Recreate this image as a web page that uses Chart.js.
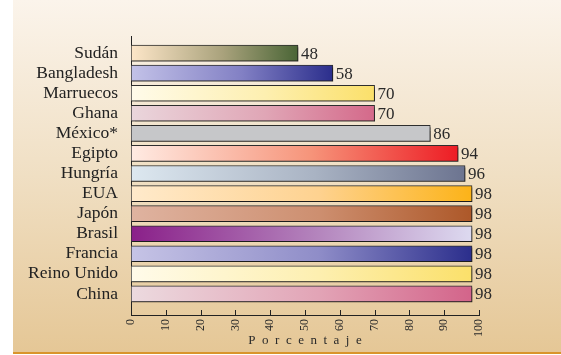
<!DOCTYPE html>
<html>
<head>
<meta charset="utf-8">
<script src="https://cdn.jsdelivr.net/npm/chart.js@4/dist/chart.umd.min.js"></script>
<style>
  html, body { margin: 0; padding: 0; background: #ffffff; }
  #wrap { width: 561px; height: 355px; position: relative; }
</style>
</head>
<body>
<div id="wrap"><canvas id="c" width="561" height="355"></canvas></div>
<script>
const categories = ['Sudán', 'Bangladesh', 'Marruecos', 'Ghana', 'México*', 'Egipto', 'Hungría', 'EUA', 'Japón', 'Brasil', 'Francia', 'Reino Unido', 'China'];
const values = [48, 58, 70, 70, 86, 94, 96, 98, 98, 98, 98, 98, 98];
const gradStart = ['#fde6c8', '#c3c2e8', '#fffbea', '#ead6dc', '#c6c7c9', '#ffebe3', '#dde8f0', '#ffeacb', '#dfb3a0', '#8a2089', '#c6c4e6', '#fffbea', '#ecdadf'];
const gradMid   = ['#a9a27c', '#8280c4', '#fdefb0', '#e0a6b6', '#c6c7c9', '#f6947a', '#a9b3c3', '#fed290', '#cd8f70', '#b485bd', '#8f8dc8', '#fdefb0', '#e2a4b6'];
const gradEnd   = ['#4a6536', '#2b2e8c', '#fbe06a', '#d4698a', '#c6c7c9', '#ed1c24', '#6c7490', '#fcb318', '#ad5829', '#dddaf0', '#2b2e8c', '#fbe06a', '#d3648a'];
const xTickValues = [0, 10, 20, 30, 40, 50, 60, 70, 80, 90, 100];
const axisTitle = 'Porcentaje';

const SERIF = '"Liberation Serif", "Times New Roman", serif';

const bgPlugin = {
  id: 'bg',
  beforeDraw(chart) {
    const ctx = chart.ctx;
    const W = chart.width, H = chart.height;
    ctx.save();
    ctx.fillStyle = '#ffffff';
    ctx.fillRect(0, 0, W, H);
    const g = ctx.createLinearGradient(0, 0, 0, H - 3);
    g.addColorStop(0, '#fbf4eb');
    g.addColorStop(0.5, '#f0dfc3');
    g.addColorStop(1, '#e5c796');
    ctx.fillStyle = g;
    ctx.fillRect(13, 0, W - 13, H - 3);
    ctx.fillStyle = '#d9952b';
    ctx.fillRect(13, H - 3, W - 13, 2);
    ctx.restore();
  }
};

const shadowPlugin = {
  id: 'barShadow',
  beforeDatasetDraw(chart) {
    const ctx = chart.ctx;
    ctx.save();
    ctx.shadowColor = 'rgba(0,0,0,0.40)';
    ctx.shadowOffsetX = 1;
    ctx.shadowOffsetY = 2;
    ctx.shadowBlur = 1;
  },
  afterDatasetDraw(chart) {
    chart.ctx.restore();
  }
};

const decoPlugin = {
  id: 'deco',
  afterDatasetsDraw(chart) {
    const ctx = chart.ctx;
    const meta = chart.getDatasetMeta(0);
    ctx.save();
    ctx.font = '17px ' + SERIF;
    ctx.fillStyle = '#2a2a2a';
    ctx.textAlign = 'left';
    ctx.textBaseline = 'middle';
    meta.data.forEach((bar, i) => {
      ctx.fillText(String(values[i]), bar.x + 3, bar.y + 1);
    });
    ctx.restore();
  },
  afterDraw(chart) {
    const ctx = chart.ctx;
    const xs = chart.scales.x;
    const bottom = chart.chartArea.bottom;
    ctx.save();
    ctx.strokeStyle = '#222';
    ctx.lineWidth = 1;
    ctx.beginPath();
    xs.ticks.forEach((t, i) => {
      const px = Math.round(xs.getPixelForTick(i)) + 0.5;
      ctx.moveTo(px, bottom);
      ctx.lineTo(px, bottom - 5);
    });
    ctx.stroke();
    const spacing = 6.5;
    ctx.font = '13px ' + SERIF;
    ctx.fillStyle = '#2a2a2a';
    ctx.textBaseline = 'middle';
    ctx.textAlign = 'left';
    ctx.letterSpacing = spacing + 'px';
    const w = ctx.measureText(axisTitle).width - spacing;
    const cx = (chart.chartArea.left + chart.chartArea.right) / 2;
    ctx.fillText(axisTitle, cx - w / 2, xs.bottom - 11);
    ctx.restore();
  }
};

new Chart(document.getElementById('c'), {
  type: 'bar',
  data: {
    datasets: [{
      data: values.map((v, i) => ({ x: v, y: i })),
      barThickness: 16,
      borderWidth: 1,
      borderColor: '#2e2e2e',
      borderSkipped: false,
      backgroundColor: (c) => {
        const chart = c.chart;
        const i = c.dataIndex;
        if (i === undefined || !chart.chartArea) return gradEnd[0];
        const xs = chart.scales.x;
        const x0 = xs.getPixelForValue(0);
        const x1 = xs.getPixelForValue(values[i]);
        const g = chart.ctx.createLinearGradient(x0, 0, x1, 0);
        g.addColorStop(0, gradStart[i]);
        g.addColorStop(0.55, gradMid[i]);
        g.addColorStop(1, gradEnd[i]);
        return g;
      }
    }]
  },
  options: {
    indexAxis: 'y',
    responsive: false,
    animation: false,
    devicePixelRatio: 1,
    layout: { padding: { left: 13, right: 82, top: 36, bottom: 3 } },
    plugins: { legend: { display: false }, tooltip: { enabled: false } },
    scales: {
      x: {
        type: 'linear',
        position: 'bottom',
        min: 0,
        max: 100,
        offset: false,
        afterBuildTicks: (s) => { s.ticks = xTickValues.map(v => ({ value: v })); },
        afterFit: (s) => { s.height = 37; },
        grid: { display: false, drawTicks: false, offset: false },
        border: { display: true, color: '#222', width: 1 },
        ticks: {
          autoSkip: false,
          minRotation: 90,
          maxRotation: 90,
          padding: 4,
          color: '#2a2a2a',
          font: { family: SERIF, size: 12 }
        }
      },
      y: {
        type: 'linear',
        reverse: true,
        min: -0.85,
        max: 13.05,
        offset: false,
        afterBuildTicks: (s) => { s.ticks = categories.map((c, i) => ({ value: i })); },
        afterFit: (s) => { s.width = 118; },
        grid: { display: false, drawTicks: false, offset: false },
        border: { display: true, color: '#222', width: 1 },
        ticks: {
          autoSkip: false,
          padding: 13,
          color: '#222',
          font: { family: SERIF, size: 17.5 },
          callback: (v) => categories[v]
        }
      }
    }
  },
  plugins: [bgPlugin, shadowPlugin, decoPlugin]
});
</script>
</body>
</html>
